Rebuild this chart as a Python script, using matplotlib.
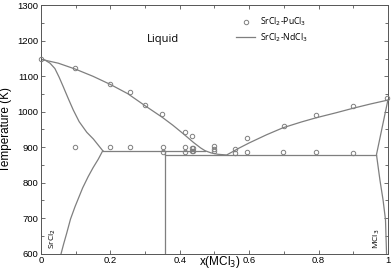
import matplotlib
matplotlib.use("Agg")
import matplotlib.pyplot as plt

# PuCl3 experimental data (open circles)
pu_x = [0.0, 0.098, 0.199, 0.256, 0.299, 0.35, 0.416, 0.434, 0.593, 0.699, 0.793, 0.9, 0.998,
        0.098, 0.199, 0.256, 0.351, 0.351, 0.415, 0.415, 0.434, 0.439, 0.434, 0.439,
        0.499, 0.499, 0.499, 0.559, 0.559, 0.593, 0.698, 0.793, 0.9]
pu_T = [1148, 1123, 1078, 1055, 1020, 995, 944, 932, 925, 961, 990, 1016, 1040,
        900, 900, 900, 900, 887, 900, 887, 898, 898, 890, 890,
        903, 896, 888, 895, 884, 887, 887, 886, 885]

# NdCl3 calculated phase diagram lines
liq_x = [0.0, 0.05, 0.1, 0.15, 0.2, 0.25, 0.3, 0.35, 0.38, 0.41, 0.44, 0.46, 0.473, 0.49,
         0.51, 0.535, 0.55, 0.57, 0.6, 0.65, 0.698, 0.75, 0.793, 0.85, 0.9, 0.95, 1.0]
liq_T = [1148, 1137, 1120, 1100, 1077, 1051, 1017, 984, 962, 938, 913, 898, 890, 884,
         880, 878, 886, 897, 912, 935, 955, 971, 983, 997, 1010, 1022, 1033]
ss_left_x = [0.0, 0.013, 0.026, 0.04, 0.052, 0.064, 0.07, 0.08, 0.093, 0.11, 0.132, 0.151, 0.178]
ss_left_T = [1148, 1145, 1137, 1122, 1098, 1071, 1057, 1034, 1005, 972, 942, 923, 890]
solvus_left_x = [0.178, 0.165, 0.15, 0.136, 0.12, 0.098, 0.085, 0.074, 0.065, 0.058]
solvus_left_T = [890, 866, 842, 817, 785, 732, 697, 657, 626, 600]
peri_x = [0.178, 0.473]
peri_T = [890, 890]
comp_x = [0.358, 0.358]
comp_T = [890, 600]
eut_x = [0.358, 0.967]
eut_T = [879, 879]
ss_right_x = [1.0, 0.998, 0.967, 0.977, 0.986, 0.993, 0.996]
ss_right_T = [1033, 1024, 879, 807, 751, 695, 600]

xticks = [0, 0.2, 0.4, 0.6, 0.8, 1]
xticklabels = ["0", "0.2", "0.4", "0.6", "0.8", "1"]
yticks = [600, 700, 800, 900, 1000, 1100, 1200, 1300]

lc = "#7f7f7f"
fig = plt.figure(figsize=(3.92, 2.72), dpi=100)
ax = fig.add_axes([0.1046, 0.068, 0.885, 0.912])

ax.plot(pu_x, pu_T, linestyle="none", marker="o", markersize=3.2, markerfacecolor="none",
        markeredgecolor=lc, markeredgewidth=0.7, label="SrCl$_2$-PuCl$_3$", clip_on=False, zorder=3)
ax.plot(liq_x, liq_T, color=lc, lw=0.9, label="SrCl$_2$-NdCl$_3$")
for xs, ts in [(ss_left_x, ss_left_T), (solvus_left_x, solvus_left_T), (peri_x, peri_T),
               (comp_x, comp_T), (eut_x, eut_T), (ss_right_x, ss_right_T)]:
    ax.plot(xs, ts, color=lc, lw=0.9)

ax.set_xlim(0, 1)
ax.set_ylim(600, 1300)
ax.set_xticks(xticks)
ax.set_xticklabels(xticklabels)
ax.set_xticks([0.1, 0.3, 0.5, 0.7, 0.9], minor=True)
ax.set_yticks(yticks)
ax.set_yticks([650, 750, 850, 950, 1050, 1150, 1250], minor=True)
ax.tick_params(which="both", direction="in", top=True, right=True, labelsize=6.8,
               color="#555555", pad=2)
ax.tick_params(which="major", length=3, width=0.6)
ax.tick_params(which="minor", length=2, width=0.6)
for lab in ax.get_xticklabels() + ax.get_yticklabels():
    lab.set_family("Liberation Sans")
for s in ax.spines.values():
    s.set_color("#555555")
    s.set_linewidth(0.7)

ax.set_ylabel("Temperature (K)", fontsize=8.5, family="Liberation Sans", labelpad=4)
ax.text(0.516, -0.036, "x(MCl$_3$)", fontsize=8.5, family="Liberation Sans",
        ha="center", va="center", transform=ax.transAxes)

ax.text(0.352, 1203, "Liquid", fontsize=8, family="Open Sans", ha="center", va="center")
ax.text(0.02, 612, "SrCl$_2$", rotation=90, fontsize=6, family="Open Sans", ha="left", va="bottom")
ax.text(0.983, 612, "MCl$_3$", rotation=90, fontsize=6, family="Open Sans", ha="right", va="bottom")

leg = ax.legend(loc="upper left", bbox_to_anchor=(0.54, 0.99), frameon=False,
                prop={"family": "Open Sans", "size": 6.2}, handlelength=2.2,
                handletextpad=0.6, labelspacing=0.35)

fig.savefig("out.png", dpi=100)
